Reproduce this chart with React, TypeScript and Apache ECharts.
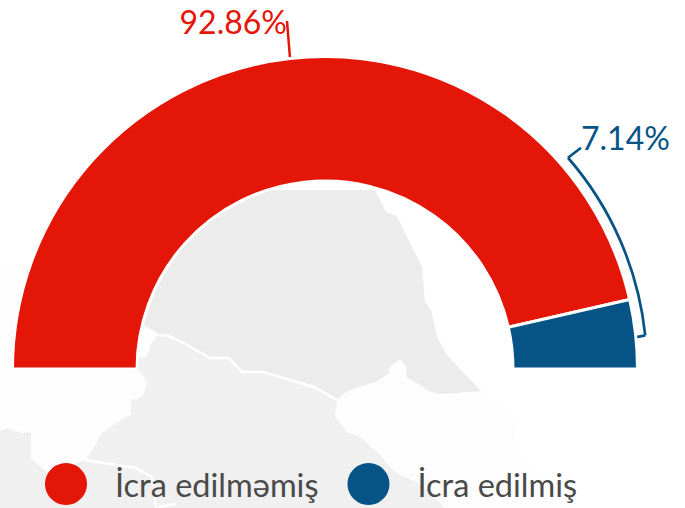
import React, { useEffect, useRef } from "react";
import * as echarts from "echarts";

const categories = ["İcra edilməmiş", "İcra edilmiş"];
const values = [92.86, 7.14];
const colors = ["#e41608", "#065385"];

const FONT = "Lato";
const CX = 325;
const CY = 369;

type Pt = number[];
const northLand: Pt[] = [[145,327],[136,300],[200,190],[375,190],[386,212],[397,216],[407,237],[422,267],[425,302],[431,310],[437,337],[447,355],[481,391],[457,393],[439,394],[428,391],[417,383],[407,378],[406,366],[400,359],[389,368],[389,373],[378,381],[347,391],[337,400],[314,387],[263,372],[242,372],[229,358],[210,358],[182,342],[169,336],[158,335]];
const southLand: Pt[] = [[157,336],[150,345],[150,348],[146,357],[130,357],[130,369],[140,372],[147,382],[144,393],[138,399],[131,400],[131,414],[116,423],[102,433],[94,447],[86,460],[66,466],[47,472],[31,459],[31,432],[22,433],[7,428],[0,431],[0,508],[445,508],[417,482],[400,475],[391,468],[382,457],[360,437],[347,432],[335,417],[337,400],[314,387],[263,372],[242,372],[229,358],[210,358],[182,342],[169,336]];
const westFaint: Pt[] = [[0,270],[140,270],[140,369],[147,382],[144,393],[138,399],[131,400],[131,414],[116,423],[102,433],[94,447],[86,460],[66,466],[47,472],[31,459],[31,432],[22,433],[7,428],[0,431]];
const eastFaint: Pt[] = [[337,400],[347,391],[378,381],[389,373],[400,359],[406,366],[407,378],[428,391],[457,393],[481,391],[517,420],[513,447],[540,475],[560,495],[575,508],[445,508],[417,482],[391,468],[382,457],[360,437],[347,432],[335,417]];
const border1: Pt[] = [[86,460],[110,464],[136,468],[152,477],[154,493],[156,508]];
const border2: Pt[] = [[158,507],[176,504]];
const border3: Pt[] = [[145,327],[158,335],[169,336],[182,342],[210,358],[229,358],[242,372],[263,372],[314,387],[337,400]];

export default function App() {
  const ref = useRef<HTMLDivElement>(null);
  useEffect(() => {
    const chart = echarts.init(ref.current!, null, { renderer: "svg" });
    const rad = (d: number) => (d * Math.PI) / 180;
    const R = 322;
    const at = (r: number, d: number) => [CX + r * Math.cos(rad(d)), CY - r * Math.sin(rad(d))];
    const land = (points: Pt[], fill: string) => ({ type: "polygon", silent: true, shape: { points }, style: { fill } });
    const whiteLine = (points: Pt[]) => ({ type: "polyline", silent: true, shape: { points }, style: { stroke: "#ffffff", lineWidth: 2.5, fill: "none" } });
    const a0 = at(R, 6);
    const a1 = at(R, 41);
    chart.setOption({
      animation: false,
      backgroundColor: "#ffffff",
      graphic: [
        land(westFaint, "#fdfdfd"),
        land(eastFaint, "#fdfdfd"),
        land(southLand, "#f1f0f1"),
        land(northLand, "#edeced"),
        whiteLine(border1),
        whiteLine(border2),
        whiteLine(border3),
        { type: "arc", silent: true, shape: { cx: CX, cy: CY, r: R, startAngle: -rad(41), endAngle: -rad(6), clockwise: true }, style: { stroke: colors[1], lineWidth: 2.7, fill: "none" } },
        { type: "line", silent: true, shape: { x1: a1[0], y1: a1[1], x2: a1[0] + 13, y2: a1[1] - 10 }, style: { stroke: colors[1], lineWidth: 2.7 } },
        { type: "line", silent: true, shape: { x1: a0[0], y1: a0[1], x2: a0[0] - 10, y2: a0[1] + 2 }, style: { stroke: colors[1], lineWidth: 2.7 } },
      ],
      legend: {
        left: 45,
        top: 463,
        padding: 0,
        orient: "horizontal",
        icon: "circle",
        itemWidth: 42,
        itemHeight: 42,
        itemGap: 29,
        itemStyle: { borderWidth: 0 },
        data: categories,
        textStyle: { fontFamily: FONT, fontSize: 32.5, color: "#4a4a4a", padding: [0, 0, 0, 23] },
      },
      series: [
        {
          type: "pie",
          center: [CX, CY],
          radius: [188, 312.5],
          startAngle: 180,
          endAngle: 0,
          clockwise: true,
          avoidLabelOverlap: false,
          itemStyle: { borderColor: "#ffffff", borderWidth: 3 },
          emphasis: { disabled: true },
          label: { show: true, position: "outside", formatter: "{c}%", fontFamily: FONT, fontSize: 32, distanceToLabelLine: 0 },
          data: categories.map((name, i) => ({
            name,
            value: values[i],
            itemStyle: { color: colors[i] },
            label: { color: colors[i] },
            labelLine: { show: i === 0, length: 25, length2: 0, lineStyle: { color: colors[i], width: 2.5 } },
          })),
          labelLayout: (p: any) =>
            p.dataIndex === 1
              ? { x: 581, y: 137, align: "left", verticalAlign: "middle" }
              : { x: 287, y: 21, align: "right", verticalAlign: "middle" },
        },
      ],
    });
    return () => chart.dispose();
  }, []);
  return <div ref={ref} style={{ position: "absolute", left: 0, top: 0, width: 685, height: 508 }} />;
}
